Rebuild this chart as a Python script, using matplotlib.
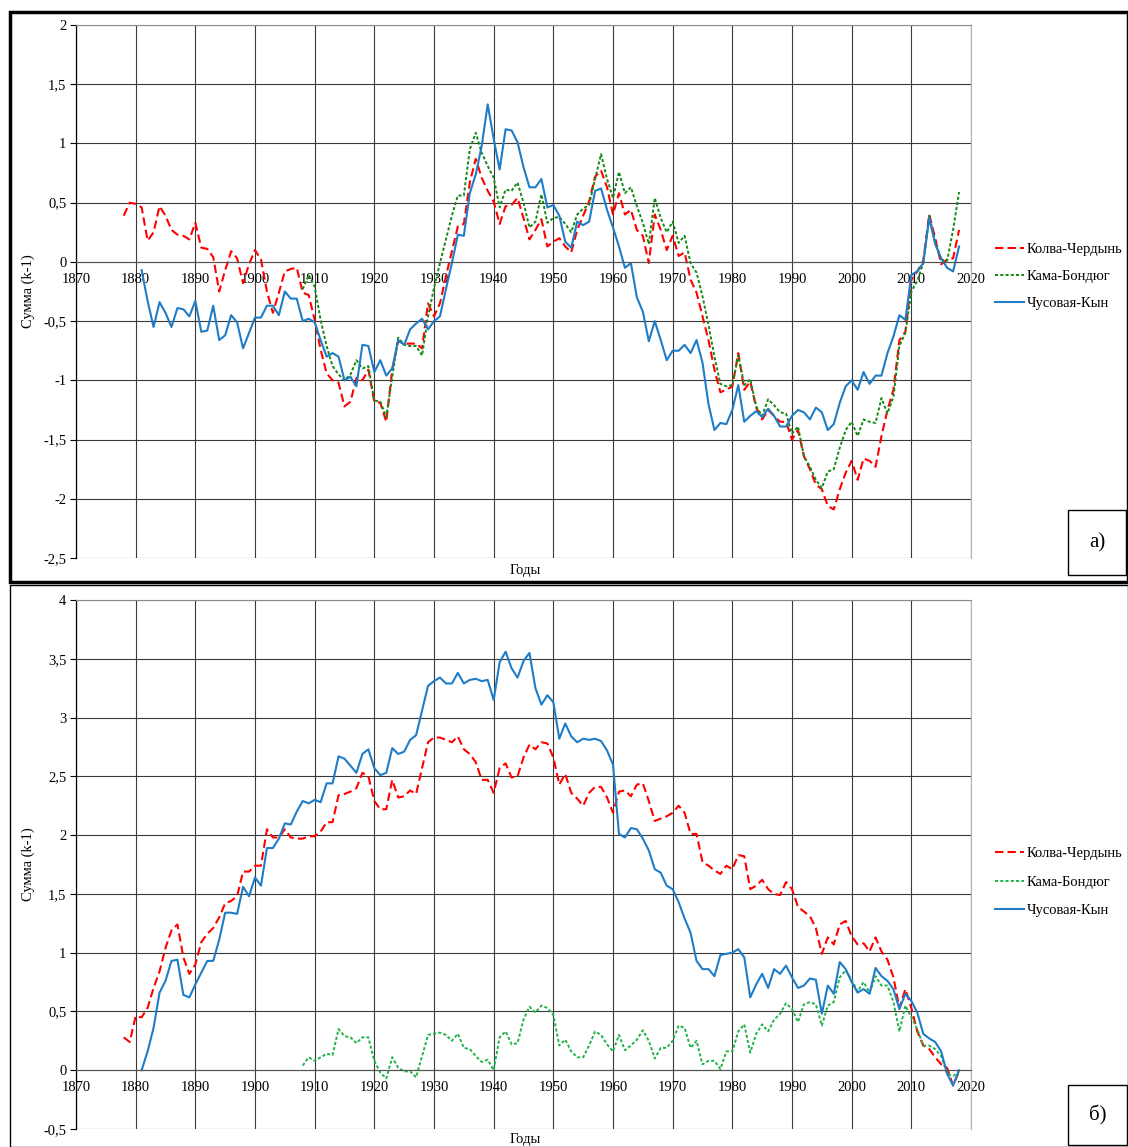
import numpy as np
import matplotlib.pyplot as plt
from matplotlib.lines import Line2D
from matplotlib.patches import Rectangle
from matplotlib.ticker import FuncFormatter, MultipleLocator

plt.rcParams['font.family'] = ['Liberation Serif', 'DejaVu Serif']

# ---- data, panel a) ----
kolva_a_start = 1878
kolva_a = [0.39, 0.50,
           0.49, 0.46, 0.18, 0.25, 0.47, 0.39, 0.27, 0.23, 0.22, 0.19,   # 1880
           0.33, 0.12, 0.11, 0.04, -0.25, -0.07, 0.09, 0.03, -0.18, -0.02,  # 1890
           0.10, 0.02, -0.25, -0.43, -0.26, -0.08, -0.06, -0.05, -0.26, -0.28,  # 1900
           -0.49, -0.74, -0.94, -1.00, -1.02, -1.22, -1.18, -0.98, -1.00, -0.91,  # 1910
           -1.18, -1.19, -1.35, -0.91, -0.67, -0.69, -0.69, -0.69, -0.73, -0.35,  # 1920
           -0.46, -0.35, -0.12, 0.09, 0.30, 0.32, 0.67, 0.87, 0.71, 0.60,  # 1930
           0.51, 0.32, 0.47, 0.48, 0.54, 0.37, 0.19, 0.27, 0.36, 0.13,  # 1940
           0.17, 0.20, 0.13, 0.08, 0.27, 0.39, 0.51, 0.72, 0.77, 0.63,  # 1950
           0.40, 0.58, 0.40, 0.44, 0.27, 0.22, -0.01, 0.40, 0.27, 0.10,  # 1960
           0.22, 0.05, 0.08, -0.15, -0.26, -0.46, -0.66, -0.91, -1.10, -1.08,  # 1970
           -1.05, -0.77, -1.08, -1.01, -1.23, -1.33, -1.25, -1.30, -1.35, -1.35,  # 1980
           -1.50, -1.42, -1.64, -1.75, -1.88, -1.92, -2.06, -2.09, -1.92, -1.78,  # 1990
           -1.68, -1.84, -1.66, -1.68, -1.73, -1.47, -1.25, -1.08, -0.66, -0.59,  # 2000
           -0.15, -0.08, 0.01, 0.40, 0.20, -0.02, 0.02, 0.03, 0.27]  # 2010

kama_a_start = 1908
kama_a = [-0.23, -0.11,
          -0.21, -0.49, -0.71, -0.88, -0.95, -1.00, -0.95, -0.83, -0.90, -0.88,  # 1910
          -1.17, -1.18, -1.31, -0.97, -0.64, -0.70, -0.71, -0.71, -0.79, -0.46,  # 1920
          -0.22, -0.01, 0.19, 0.39, 0.56, 0.56, 0.95, 1.09, 0.92, 0.81,  # 1930
          0.71, 0.46, 0.61, 0.60, 0.67, 0.50, 0.29, 0.34, 0.57, 0.33,  # 1940
          0.37, 0.38, 0.32, 0.25, 0.40, 0.45, 0.48, 0.70, 0.91, 0.70,  # 1950
          0.54, 0.76, 0.58, 0.63, 0.47, 0.33, 0.15, 0.54, 0.37, 0.25,  # 1960
          0.34, 0.16, 0.22, -0.01, -0.09, -0.29, -0.53, -0.80, -1.03, -1.05,  # 1970
          -1.04, -0.79, -1.04, -0.99, -1.22, -1.30, -1.16, -1.21, -1.27, -1.28,  # 1980
          -1.45, -1.39, -1.64, -1.73, -1.84, -1.91, -1.77, -1.75, -1.57, -1.42,  # 1990
          -1.35, -1.47, -1.33, -1.35, -1.36, -1.15, -1.28, -1.14, -0.71, -0.60,  # 2000
          -0.25, -0.16, -0.01, 0.39, 0.17, 0.02, 0.01, 0.27, 0.59]  # 2010

chus_a_start = 1881
chus_a = [-0.07, -0.33, -0.55, -0.34, -0.43, -0.55, -0.39, -0.40, -0.46,  # 1881
          -0.33, -0.59, -0.58, -0.37, -0.66, -0.62, -0.45, -0.51, -0.73, -0.60,  # 1890
          -0.47, -0.47, -0.37, -0.37, -0.45, -0.25, -0.31, -0.31, -0.50, -0.48,  # 1900
          -0.51, -0.66, -0.80, -0.77, -0.80, -1.00, -0.97, -1.05, -0.70, -0.71,  # 1910
          -0.93, -0.83, -0.96, -0.90, -0.66, -0.70, -0.57, -0.52, -0.48, -0.57,  # 1920
          -0.50, -0.46, -0.23, -0.01, 0.23, 0.22, 0.58, 0.74, 0.98, 1.33,  # 1930
          1.04, 0.78, 1.12, 1.11, 1.01, 0.80, 0.63, 0.63, 0.70, 0.46,  # 1940
          0.48, 0.39, 0.17, 0.12, 0.34, 0.31, 0.34, 0.60, 0.62, 0.44,  # 1950
          0.29, 0.13, -0.05, -0.01, -0.30, -0.42, -0.67, -0.50, -0.66, -0.83,  # 1960
          -0.75, -0.75, -0.70, -0.77, -0.66, -0.85, -1.20, -1.42, -1.36, -1.37,  # 1970
          -1.25, -1.04, -1.35, -1.30, -1.26, -1.31, -1.24, -1.30, -1.39, -1.39,  # 1980
          -1.30, -1.25, -1.27, -1.33, -1.23, -1.27, -1.42, -1.37, -1.19, -1.05,  # 1990
          -1.00, -1.08, -0.93, -1.03, -0.96, -0.96, -0.77, -0.63, -0.45, -0.49,  # 2000
          -0.11, -0.08, -0.01, 0.37, 0.15, 0.03, -0.05, -0.08, 0.13]  # 2010

# ---- data, panel b) ----
kolva_b_start = 1878
kolva_b = [0.28, 0.24,
           0.46, 0.45, 0.53, 0.70, 0.84, 1.04, 1.19, 1.24, 0.96, 0.82,  # 1880
           0.90, 1.09, 1.16, 1.21, 1.30, 1.42, 1.44, 1.48, 1.69, 1.69,  # 1890
           1.74, 1.74, 2.05, 1.98, 1.98, 2.05, 1.98, 1.97, 1.97, 1.99,  # 1900
           1.99, 2.03, 2.11, 2.11, 2.34, 2.35, 2.37, 2.40, 2.53, 2.50,  # 1910
           2.29, 2.22, 2.22, 2.47, 2.32, 2.33, 2.38, 2.35, 2.57, 2.79,  # 1920
           2.83, 2.83, 2.81, 2.79, 2.84, 2.73, 2.69, 2.62, 2.47, 2.47,  # 1930
           2.36, 2.57, 2.61, 2.49, 2.50, 2.66, 2.77, 2.73, 2.79, 2.78,  # 1940
           2.66, 2.43, 2.52, 2.36, 2.31, 2.25, 2.36, 2.41, 2.41, 2.32,  # 1950
           2.19, 2.37, 2.38, 2.33, 2.43, 2.44, 2.29, 2.12, 2.14, 2.16,  # 1960
           2.19, 2.25, 2.19, 2.01, 2.01, 1.77, 1.74, 1.70, 1.67, 1.74,  # 1970
           1.71, 1.83, 1.82, 1.54, 1.57, 1.62, 1.54, 1.50, 1.49, 1.60,  # 1980
           1.54, 1.39, 1.35, 1.31, 1.21, 0.99, 1.13, 1.07, 1.24, 1.27,  # 1990
           1.14, 1.07, 1.08, 1.01, 1.13, 1.01, 0.94, 0.79, 0.53, 0.69,  # 2000
           0.53, 0.33, 0.21, 0.18, 0.11, 0.05, 0.02, -0.13, -0.01]  # 2010

kama_b_start = 1908
kama_b = [0.04, 0.11,
          0.08, 0.11, 0.14, 0.13, 0.35, 0.29, 0.28, 0.23, 0.28, 0.28,  # 1910
          0.08, -0.02, -0.07, 0.11, 0.02, -0.01, -0.01, -0.06, 0.12, 0.30,  # 1920
          0.31, 0.32, 0.30, 0.25, 0.31, 0.19, 0.18, 0.12, 0.07, 0.09,  # 1930
          0.00, 0.28, 0.33, 0.22, 0.23, 0.43, 0.54, 0.49, 0.55, 0.53,  # 1940
          0.47, 0.21, 0.26, 0.16, 0.11, 0.11, 0.21, 0.33, 0.30, 0.22,  # 1950
          0.16, 0.30, 0.17, 0.21, 0.26, 0.34, 0.25, 0.10, 0.19, 0.19,  # 1960
          0.25, 0.38, 0.36, 0.19, 0.25, 0.05, 0.08, 0.08, 0.01, 0.16,  # 1970
          0.16, 0.33, 0.39, 0.15, 0.31, 0.39, 0.33, 0.43, 0.48, 0.57,  # 1980
          0.52, 0.41, 0.56, 0.58, 0.56, 0.38, 0.55, 0.58, 0.79, 0.85,  # 1990
          0.77, 0.67, 0.75, 0.66, 0.80, 0.72, 0.72, 0.58, 0.33, 0.55,  # 2000
          0.45, 0.35, 0.21, 0.21, 0.18, 0.12, -0.03, -0.05, -0.01]  # 2010

chus_b_start = 1881
chus_b = [0.00, 0.16, 0.36, 0.66, 0.76, 0.93, 0.94, 0.64, 0.62,  # 1881
          0.73, 0.83, 0.93, 0.93, 1.11, 1.34, 1.34, 1.33, 1.56, 1.48,  # 1890
          1.64, 1.57, 1.89, 1.89, 1.97, 2.10, 2.09, 2.20, 2.29, 2.27,  # 1900
          2.30, 2.28, 2.44, 2.44, 2.67, 2.65, 2.59, 2.53, 2.69, 2.73,  # 1910
          2.57, 2.51, 2.53, 2.74, 2.69, 2.71, 2.81, 2.85, 3.06, 3.27,  # 1920
          3.31, 3.34, 3.29, 3.29, 3.38, 3.29, 3.32, 3.33, 3.31, 3.32,  # 1930
          3.15, 3.47, 3.56, 3.42, 3.34, 3.48, 3.55, 3.25, 3.11, 3.19,  # 1940
          3.13, 2.82, 2.95, 2.84, 2.79, 2.82, 2.81, 2.82, 2.80, 2.72,  # 1950
          2.60, 2.01, 1.98, 2.06, 2.05, 1.97, 1.87, 1.71, 1.68, 1.57,  # 1960
          1.54, 1.43, 1.29, 1.17, 0.93, 0.86, 0.86, 0.80, 0.98, 0.99,  # 1970
          1.00, 1.03, 0.96, 0.62, 0.73, 0.82, 0.70, 0.86, 0.82, 0.89,  # 1980
          0.79, 0.70, 0.72, 0.78, 0.77, 0.48, 0.72, 0.65, 0.92, 0.86,  # 1990
          0.75, 0.66, 0.69, 0.65, 0.87, 0.80, 0.76, 0.69, 0.52, 0.65,  # 2000
          0.59, 0.49, 0.31, 0.27, 0.24, 0.16, -0.03, -0.13, 0.00]  # 2010

names = ['Колва-Чердынь', 'Кама-Бондюг', 'Чусовая-Кын']

W, H = 1128, 1147


def fx(x):
    return x / W


def fy(y):
    return 1 - y / H


def years(start, vals):
    return np.arange(start, start + len(vals))


def comma(v, pos):
    s = ('%g' % round(v, 2)).replace('.', ',')
    return s


def style_axes(ax, ymin, ymax, xlab_y):
    ax.set_xlim(1870, 2020)
    ax.set_ylim(ymin, ymax)
    ax.xaxis.set_major_locator(MultipleLocator(10))
    ax.yaxis.set_major_locator(MultipleLocator(0.5))
    ax.yaxis.set_major_formatter(FuncFormatter(comma))
    ax.grid(True, color='#3a3a3a', linewidth=0.8)
    ax.set_axisbelow(True)
    ax.spines['bottom'].set_position(('data', 0))
    ax.spines['bottom'].set_color('#555555')
    ax.spines['bottom'].set_linewidth(0.8)
    ax.spines['left'].set_color('black')
    ax.spines['left'].set_linewidth(0.9)
    ax.spines['top'].set_color('#8c8c8c')
    ax.spines['right'].set_color('#b0b0b0')
    ax.spines['top'].set_linewidth(0.8)
    ax.spines['right'].set_linewidth(0.8)
    ax.tick_params(axis='x', length=0, pad=8, labelsize=10.5)
    ax.tick_params(axis='y', length=4, width=0.8, direction='out', pad=3, labelsize=10.5)
    ax.set_ylabel('Сумма (k-1)', fontsize=10.5)
    ax.yaxis.set_label_coords(-0.046, 0.5)
    ax.set_xlabel('Годы', fontsize=10.5)
    ax.xaxis.set_label_coords(0.502, xlab_y)


fig = plt.figure(figsize=(W / 100, H / 100), dpi=100)

red = '#ff0000'
blue = '#1f7cc7'
green_a = '#138a13'
green_b = '#22b34a'
lw = 1.5

# panel a
ax1 = fig.add_axes([fx(76), fy(558), fx(971) - fx(76), fy(25) - fy(558)])
style_axes(ax1, -2.5, 2, -0.011)
ax1.plot(years(kolva_a_start, kolva_a), kolva_a, color=red, lw=lw, dashes=(4, 2))
ax1.plot(years(kama_a_start, kama_a), kama_a, color=green_a, lw=1.4, dashes=(1.6, 1.1))
ax1.plot(years(chus_a_start, chus_a), chus_a, color=blue, lw=lw)

# panel b
ax2 = fig.add_axes([fx(76), fy(1129), fx(971) - fx(76), fy(600) - fy(1129)])
style_axes(ax2, -0.5, 4, -0.008)
ax2.plot(years(kolva_b_start, kolva_b), kolva_b, color=red, lw=lw, dashes=(4, 2))
ax2.plot(years(kama_b_start, kama_b), kama_b, color=green_b, lw=1.4, dashes=(1.6, 1.1))
ax2.plot(years(chus_b_start, chus_b), chus_b, color=blue, lw=lw)

# legends
for top, green, spacing in [(243, green_a, 0.95), (847, green_b, 1.05)]:
    handles = [Line2D([], [], color=red, lw=lw, dashes=(4, 2)),
               Line2D([], [], color=green, lw=1.4, dashes=(1.6, 1.1)),
               Line2D([], [], color=blue, lw=lw)]
    fig.legend(handles, names, loc='upper left', bbox_to_anchor=(fx(995), fy(top)),
               frameon=False, fontsize=10.5, handlelength=2.0, handletextpad=0.15,
               labelspacing=spacing, borderaxespad=0, borderpad=0)

# panel frames and captions
fig.add_artist(Rectangle((fx(10), fy(582)), fx(1128) - fx(10), fy(12) - fy(582),
                         transform=fig.transFigure, fill=False, ec='black', lw=2.5))
fig.add_artist(Rectangle((fx(10), fy(1147)), fx(1128) - fx(10), fy(585) - fy(1147),
                         transform=fig.transFigure, fill=False, ec='black', lw=1.0))
for (x0, y0, x1, y1, txt) in [(1068, 510, 1126, 575, 'а)'), (1068, 1085, 1127, 1145, 'б)')]:
    fig.add_artist(Rectangle((fx(x0), fy(y1)), fx(x1) - fx(x0), fy(y0) - fy(y1),
                             transform=fig.transFigure, fill=True, fc='white', ec='black', lw=1.0))
    fig.text(fx((x0 + x1) / 2), fy((y0 + y1) / 2), txt, ha='center', va='center', fontsize=15)

fig.savefig('out.png', dpi=100)
